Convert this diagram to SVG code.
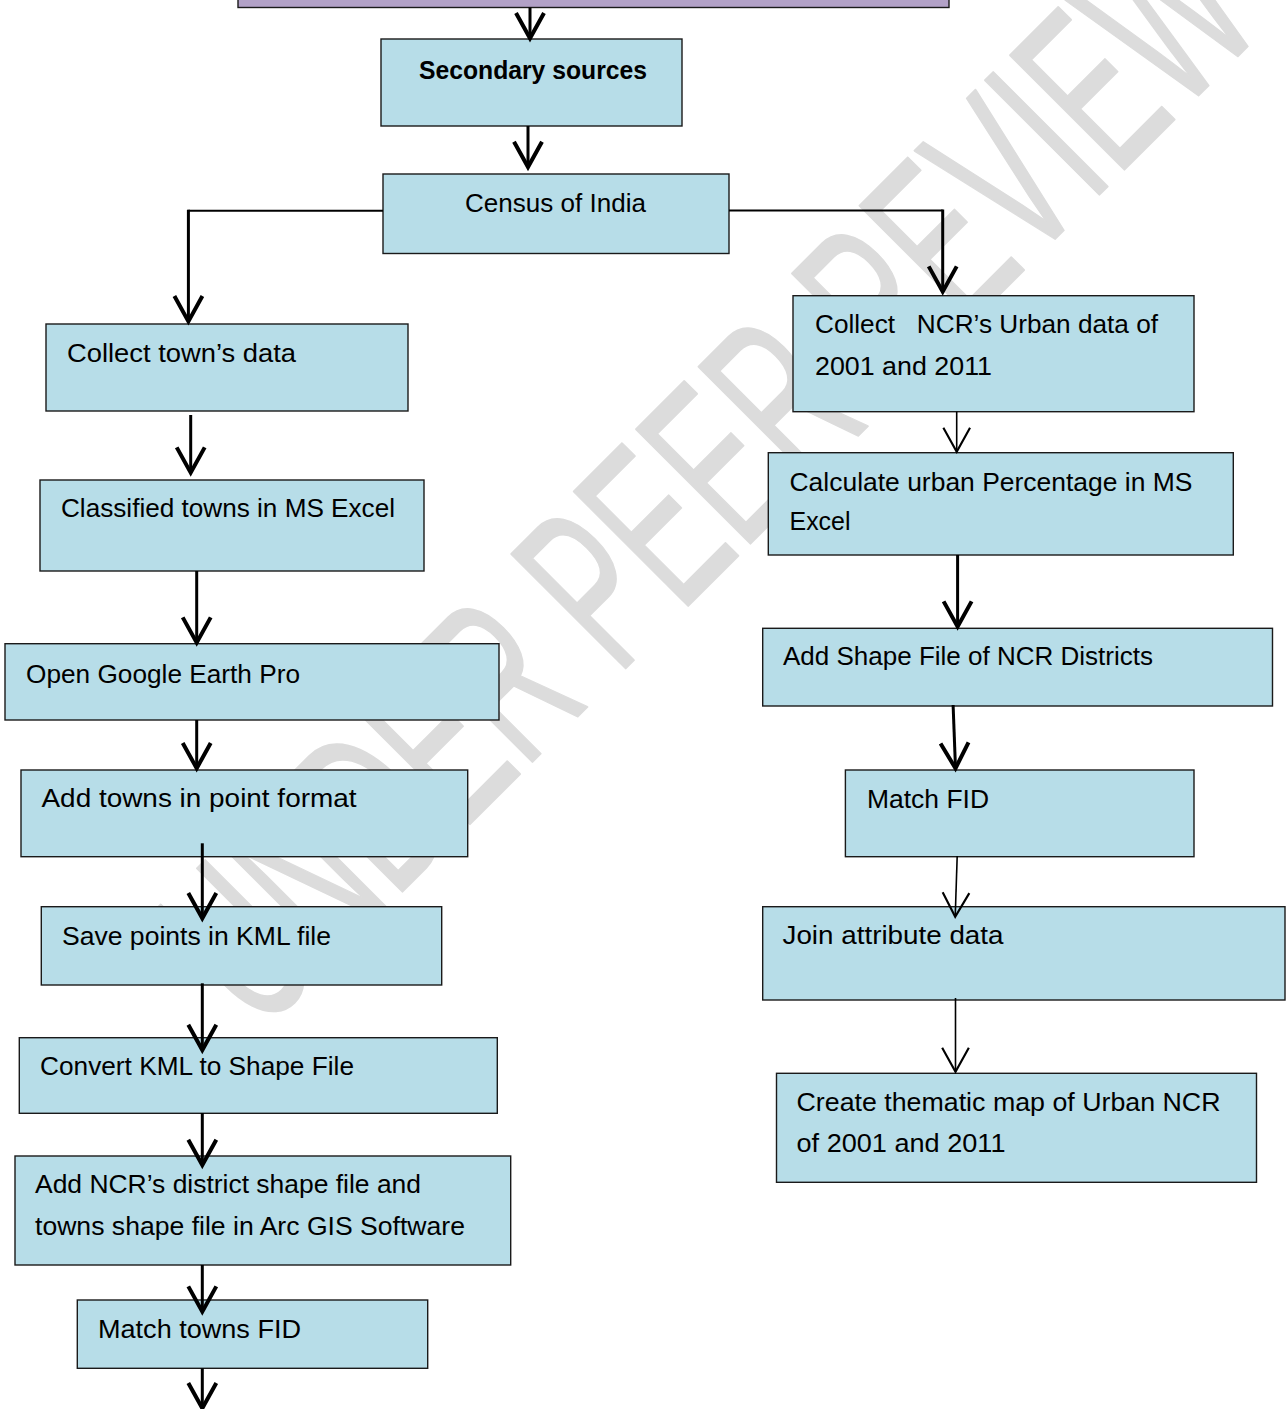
<svg xmlns="http://www.w3.org/2000/svg" width="1287" height="1409" viewBox="0 0 1287 1409">
<style>
.box{fill:#b7dde8;stroke:#1a1a1a;stroke-width:1.4}
.pbox{fill:#b2a1c7;stroke:#1a1a1a;stroke-width:1.4}
.t{font-family:"Liberation Sans",Arial,sans-serif;font-size:26.5px;fill:#000}
.b{font-weight:bold}
.thick{fill:none;stroke:#000;stroke-width:3}
.thin{fill:none;stroke:#000;stroke-width:1.6}
.wm{font-family:"Liberation Sans Narrow","Liberation Sans",sans-serif;font-size:235px;fill:#dcdcdc;stroke:#dcdcdc;stroke-width:2;stroke-linejoin:round}
</style>
<defs>
<marker id="ah" markerUnits="userSpaceOnUse" markerWidth="40" markerHeight="40" viewBox="-25 -15 30 30" refX="0" refY="0" orient="auto" overflow="visible">
<path d="M-19,-10.5 L0,0 L-19,10.5" fill="none" stroke="#000" stroke-width="3"/>
</marker>
<marker id="ahs" markerUnits="userSpaceOnUse" markerWidth="40" markerHeight="40" viewBox="-25 -15 30 30" refX="0" refY="0" orient="auto" overflow="visible">
<path d="M-18,-10 L0,0 L-18,10" fill="none" stroke="#000" stroke-width="1.6"/>
</marker>
</defs>
<rect x="0" y="0" width="1287" height="1409" fill="#fff"/>
<g id="watermark">
<text class="wm" transform="rotate(-45)" x="-548" y="915" textLength="1425" lengthAdjust="spacingAndGlyphs">UNDER PEER REVIEW</text>
</g>
<g id="nodes">
<g id="n-top"><rect class="pbox" x="238" y="-20" width="711" height="27.5"/></g>
<g id="n-secondary"><rect class="box" x="381" y="39" width="301" height="87"/><text class="t b" x="419" y="78.5" textLength="228" lengthAdjust="spacingAndGlyphs">Secondary sources</text></g>
<g id="n-census"><rect class="box" x="383" y="174" width="346" height="79.5"/><text class="t" x="465" y="212" textLength="181" lengthAdjust="spacingAndGlyphs">Census of India</text></g>
<g id="n-collect-town"><rect class="box" x="46" y="324" width="362" height="87"/><text class="t" x="67" y="362" textLength="229" lengthAdjust="spacingAndGlyphs">Collect town’s data</text></g>
<g id="n-classified"><rect class="box" x="40" y="480" width="384" height="91"/><text class="t" x="61" y="517" textLength="334" lengthAdjust="spacingAndGlyphs">Classified towns in MS Excel</text></g>
<g id="n-google"><rect class="box" x="5" y="643.7" width="494" height="76.3"/><text class="t" x="26" y="683" textLength="274" lengthAdjust="spacingAndGlyphs">Open Google Earth Pro</text></g>
<g id="n-addtowns"><rect class="box" x="21" y="770" width="446.7" height="86.7"/><text class="t" x="41.5" y="807" textLength="315" lengthAdjust="spacingAndGlyphs">Add towns in point format</text></g>
<g id="n-save"><rect class="box" x="41.3" y="906.7" width="400.4" height="78.3"/><text class="t" x="62" y="945" textLength="269" lengthAdjust="spacingAndGlyphs">Save points in KML file</text></g>
<g id="n-convert"><rect class="box" x="19.3" y="1037.7" width="478" height="75.6"/><text class="t" x="40" y="1075" textLength="314" lengthAdjust="spacingAndGlyphs">Convert KML to Shape File</text></g>
<g id="n-addncr"><rect class="box" x="15" y="1156" width="495.7" height="109"/><text class="t" x="35" y="1193" textLength="386" lengthAdjust="spacingAndGlyphs">Add NCR’s district shape file and</text><text class="t" x="35" y="1235" textLength="430" lengthAdjust="spacingAndGlyphs">towns shape file in Arc GIS Software</text></g>
<g id="n-matchtowns"><rect class="box" x="77.3" y="1300" width="350.4" height="68.3"/><text class="t" x="98" y="1338" textLength="203" lengthAdjust="spacingAndGlyphs">Match towns FID</text></g>
<g id="n-collect-ncr"><rect class="box" x="793" y="295.7" width="401" height="116"/><text class="t" x="815" y="333" textLength="343" lengthAdjust="spacingAndGlyphs" xml:space="preserve" style="white-space:pre">Collect   NCR’s Urban data of</text><text class="t" x="815" y="375" textLength="177" lengthAdjust="spacingAndGlyphs">2001 and 2011</text></g>
<g id="n-calculate"><rect class="box" x="768.3" y="452.7" width="465" height="102.3"/><text class="t" x="789.5" y="490.5" textLength="403" lengthAdjust="spacingAndGlyphs">Calculate urban Percentage in MS</text><text class="t" x="789.5" y="530" textLength="61" lengthAdjust="spacingAndGlyphs">Excel</text></g>
<g id="n-addshape"><rect class="box" x="762.7" y="628.3" width="509.8" height="77.7"/><text class="t" x="783" y="665" textLength="370" lengthAdjust="spacingAndGlyphs">Add Shape File of NCR Districts</text></g>
<g id="n-matchfid"><rect class="box" x="845.4" y="770" width="348.6" height="86.7"/><text class="t" x="867" y="808" textLength="122" lengthAdjust="spacingAndGlyphs">Match FID</text></g>
<g id="n-join"><rect class="box" x="762.7" y="906.7" width="522.3" height="93.3"/><text class="t" x="782.5" y="944" textLength="221" lengthAdjust="spacingAndGlyphs">Join attribute data</text></g>
<g id="n-create"><rect class="box" x="776.5" y="1073.3" width="480" height="109"/><text class="t" x="796.5" y="1111" textLength="424" lengthAdjust="spacingAndGlyphs">Create thematic map of Urban NCR</text><text class="t" x="796.5" y="1152" textLength="209" lengthAdjust="spacingAndGlyphs">of 2001 and 2011</text></g>
</g>
<g id="connectors">
<path class="thick" d="M530,7.5 V38.3" marker-end="url(#ah)"/>
<path class="thick" d="M528,126 V167" marker-end="url(#ah)"/>
<path class="thin" d="M383,210.7 H188.4" style="stroke-width:2"/>
<path class="thick" d="M188.4,209.7 V321.4" marker-end="url(#ah)"/>
<path class="thin" d="M729,210.5 H942.7" style="stroke-width:2"/>
<path class="thick" d="M942.7,209.5 V291.7" marker-end="url(#ah)"/>
<path class="thick" d="M190.7,415 V472.7" marker-end="url(#ah)"/>
<path class="thick" d="M196.7,571 V642.7" marker-end="url(#ah)"/>
<path class="thick" d="M196.7,720 V768.3" marker-end="url(#ah)"/>
<path class="thick" d="M202.3,843.3 V918.3" marker-end="url(#ah)"/>
<path class="thick" d="M202.3,983.3 V1050" marker-end="url(#ah)"/>
<path class="thick" d="M202.3,1113 V1165" marker-end="url(#ah)"/>
<path class="thick" d="M202.3,1265 V1311.7" marker-end="url(#ah)"/>
<path class="thick" d="M202.3,1368.3 V1408.3" marker-end="url(#ah)"/>
<path class="thin" d="M956.7,411.7 V451.7" marker-end="url(#ahs)"/>
<path class="thick" d="M957.6,555 V626.7" marker-end="url(#ah)"/>
<path class="thick" d="M953.1,705 L955.5,768.3" marker-end="url(#ah)"/>
<path class="thin" d="M957.2,856 L955.2,916.7" marker-end="url(#ahs)"/>
<path class="thin" d="M955.5,998 V1071.7" marker-end="url(#ahs)"/>
</g>
</svg>
